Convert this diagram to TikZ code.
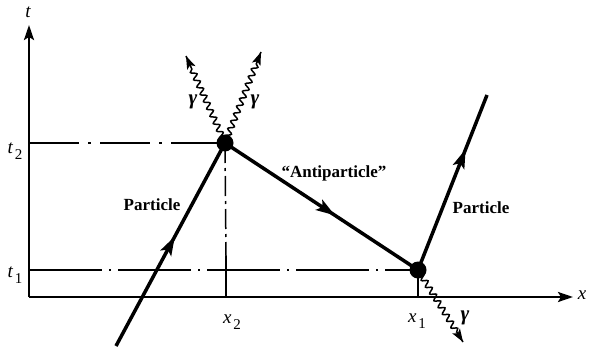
\documentclass[tikz,border=0pt]{standalone}
\usepackage{fontspec}
\setmainfont{Liberation Serif}
\usetikzlibrary{arrows.meta,decorations.pathmorphing,decorations.markings,calc}
\tikzset{
  axis/.style={line width=2.4pt,-{Stealth[length=15pt,width=10pt,inset=3pt]}},
  world/.style={line width=3.5pt},
  vtx/.style={circle,fill=black,inner sep=0pt,minimum size=17pt},
  dashdot/.style={line width=1.5pt},
  photon/.style={line width=1.5pt,decorate,decoration={snake,amplitude=2.8pt,segment length=8pt,post length=11pt,pre length=4pt}},
  photonhead/.style={line width=1.5pt,-{Stealth[length=13pt,width=9pt,inset=3pt]}},
  midarrow/.style={postaction={decorate,decoration={markings,mark=at position #1 with {\arrow{Stealth[length=19pt,width=12pt,inset=4pt]}}}}},
  lab/.style={font=\bfseries\fontsize{17}{19}\selectfont,inner sep=0pt},
  ax/.style={font=\itshape\fontsize{19}{21}\selectfont,inner sep=0pt},
  gam/.style={font=\bfseries\itshape\fontsize{21}{23}\selectfont,inner sep=0pt},
}
\newcommand{\subl}[2]{{\fontsize{19}{21}\selectfont\textit{#1}}\,\raisebox{-6pt}{\upshape\fontsize{15}{15}\selectfont #2}}
\begin{document}
\begin{tikzpicture}[x=1pt,y=-1pt]
\useasboundingbox (0,0) rectangle (594,348);
% axes
\coordinate (O) at (29,297);
\coordinate (tend) at (29,25);
\coordinate (xend) at (573,297);
\draw[axis] (O) -- (tend);
\draw[axis] (O) -- (xend);
\node[ax] (tl) at (28,12) {t};
\node[ax] (xl) at (582,295) {x};
% vertices
\node[vtx] (v2) at (225,143) {};
\node[vtx] (v1) at (418,270) {};
\coordinate (t2a) at (29,143);
\coordinate (t1a) at (29,270);
\coordinate (x2a) at (226,297);
\coordinate (x2m) at (226,256);
\coordinate (x1a) at (418,297);
% dash-dot guide lines
\draw[dashdot,dash pattern=on 50pt off 9pt on 3pt off 9pt] (t2a) -- (v2.center);
\draw[dashdot,dash pattern=on 73pt off 7pt on 2pt off 7pt] (t1a) -- (v1.center);
\draw[dashdot,dash pattern=on 20pt off 5pt on 3pt off 5pt] (v2.center) -- (x2m);
\draw[dashdot] (x2m) -- (x2a);
\draw[dashdot] (v1.center) -- (x1a);
% world lines
\coordinate (p1s) at (116,346);
\coordinate (p2e) at (487,95);
\draw[world,midarrow=0.54] (p1s) -- (v2.center);
\draw[world,midarrow=0.57] (v2.center) -- (v1.center);
\draw[world,midarrow=0.69] (v1.center) -- (p2e);
% photons
\coordinate (g1) at (186,56);
\coordinate (g2) at (261,52);
\coordinate (g3) at (463,342);
\draw[photon] (v2.center) -- (g1);
\draw[photonhead] ($(g1)!11pt!(v2.center)$) -- (g1);
\draw[photon] (v2.center) -- (g2);
\draw[photonhead] ($(g2)!11pt!(v2.center)$) -- (g2);
\draw[photon] (v1.center) -- (g3);
\draw[photonhead] ($(g3)!11pt!(v1.center)$) -- (g3);
% labels
\node[gam] (gl1) at (193,102) {γ};
\node[gam] (gl2) at (255,102) {γ};
\node[gam] (gl3) at (465,318) {γ};
\node[lab] (pl1) at (152,205) {Particle};
\node[lab] (al) at (334,173) {“Antiparticle”};
\node[lab] (pl2) at (481,208) {Particle};
\node[inner sep=0pt,anchor=center] (t2l) at (15,151) {\subl{t}{2}};
\node[inner sep=0pt,anchor=center] (t1l) at (15,275) {\subl{t}{1}};
\node[inner sep=0pt,anchor=center] (x2l) at (232,322) {\subl{x}{2}};
\node[inner sep=0pt,anchor=center] (x1l) at (417,321) {\subl{x}{1}};
\end{tikzpicture}
\end{document}
